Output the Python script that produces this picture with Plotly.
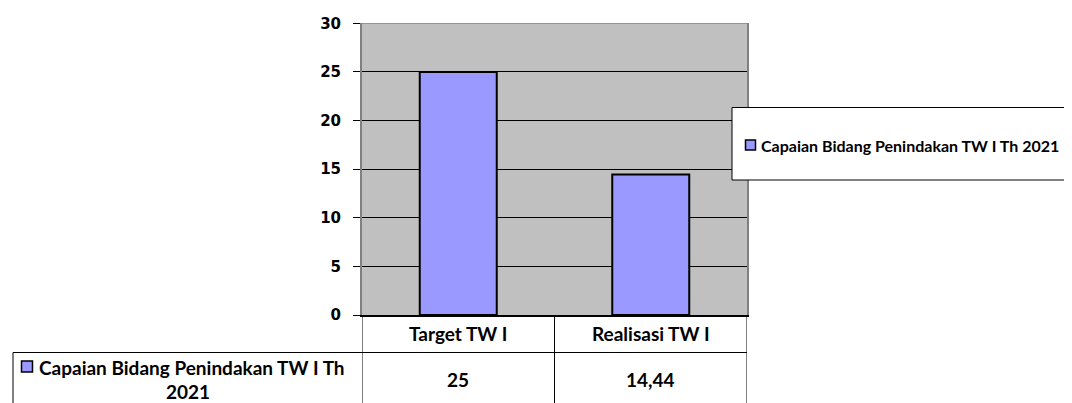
import plotly.graph_objects as go

# ---- data ----
categories = ["Target TW I", "Realisasi TW I"]
values = [25, 14.44]
value_labels = ["25", "14,44"]
series_name = "Capaian Bidang Penindakan TW I Th 2021"
y_ticks = [0, 5, 10, 15, 20, 25, 30]

W, H = 1072, 403
OX, OY = 8, 8  # page body offset


def px(x):
    return (x - OX) / W


def py(y):
    return 1 - (y - OY) / H


BAR = "#9999FF"
TXT = dict(family="Lato, Carlito, Calibri, sans-serif", color="black")

fig = go.Figure()
fig.add_trace(go.Bar(
    x=categories, y=values, width=0.4,
    marker=dict(color=BAR, line=dict(color="black", width=2)),
    showlegend=False, hoverinfo="skip",
))

plot_left, plot_right, plot_top, plot_bottom = 362, 747, 23.3, 315

fig.update_layout(
    width=W, height=H,
    margin=dict(l=0, r=0, t=0, b=0, pad=0, autoexpand=False),
    paper_bgcolor="white",
    plot_bgcolor="#C0C0C0",
    showlegend=False,
    xaxis=dict(
        domain=[px(plot_left), px(plot_right)],
        showticklabels=False, ticks="",
        showline=True, linecolor="black", linewidth=1.5,
        showgrid=False, zeroline=False, automargin=False,
        range=[-0.5, 1.5], fixedrange=True,
    ),
    yaxis=dict(
        domain=[py(plot_bottom), py(plot_top)],
        range=[0, 30], tickvals=y_ticks,
        ticks="outside", ticklen=7, tickcolor="black", tickwidth=1,
        ticklabelstandoff=9,
        tickfont=dict(family="DejaVu Sans", size=15, color="black", weight="bold"),
        showline=True, linecolor="#808080", linewidth=2, mirror=True,
        showgrid=True, gridcolor="black", gridwidth=1,
        zeroline=False, fixedrange=True, automargin=False,
    ),
)

shapes = []
# top border (gray)
shapes.append(dict(type="line", xref="x", yref="y", x0=-0.5, x1=1.5, y0=30, y1=30,
                   line=dict(color="#808080", width=1.5)))

# data table lines
t_top, t_mid, t_bot = 315, 352.5, 420
for b in [-0.5, 0.5, 1.5]:
    shapes.append(dict(type="line", xref="x", yref="paper", x0=b, x1=b,
                       y0=py(t_top), y1=py(t_bot), line=dict(color="black", width=1)))
shapes.append(dict(type="line", xref="paper", yref="paper", x0=px(13), x1=px(plot_right),
                   y0=py(t_mid), y1=py(t_mid), line=dict(color="black", width=1)))
shapes.append(dict(type="line", xref="paper", yref="paper", x0=px(13), x1=px(13),
                   y0=py(t_mid), y1=py(t_bot), line=dict(color="black", width=1)))
# legend key in table
shapes.append(dict(type="rect", xref="paper", yref="paper", x0=px(21.5), x1=px(32.5),
                   y0=py(372), y1=py(361), fillcolor=BAR, line=dict(color="black", width=1.5)))

# legend box
shapes.append(dict(type="rect", xref="paper", yref="paper", x0=px(732), x1=px(1090),
                   y0=py(180), y1=py(107.5), fillcolor="white", line=dict(color="black", width=1)))
shapes.append(dict(type="rect", xref="paper", yref="paper", x0=px(745.5), x1=px(755.5),
                   y0=py(150), y1=py(140), fillcolor=BAR, line=dict(color="black", width=1.5)))

annotations = []
# category header row
for c in categories:
    annotations.append(dict(x=c, xref="x", y=py(333.5), yref="paper", text=c, showarrow=False,
                            xanchor="center", yanchor="middle",
                            font=dict(size=19, weight="bold", **TXT)))
# value row
for c, v in zip(categories, value_labels):
    annotations.append(dict(x=c, xref="x", y=py(379.5), yref="paper", text=v, showarrow=False,
                            xanchor="center", yanchor="middle",
                            font=dict(size=19, weight="bold", **TXT)))
# series name in table (wrapped)
line1, line2 = series_name.rsplit(" ", 1)
annotations.append(dict(x=px(37), y=py(367.5), xref="paper", yref="paper", text=line1, showarrow=False,
                        xanchor="left", yanchor="middle", font=dict(size=19, weight="bold", **TXT)))
annotations.append(dict(x=px(187.5), y=py(391), xref="paper", yref="paper", text=line2, showarrow=False,
                        xanchor="center", yanchor="middle", font=dict(size=19, weight="bold", **TXT)))
# legend text
annotations.append(dict(x=px(759), y=py(145), xref="paper", yref="paper", text=series_name,
                        showarrow=False, xanchor="left", yanchor="middle",
                        font=dict(size=16, weight="bold", **TXT)))

fig.update_layout(shapes=shapes, annotations=annotations)
fig.write_html("out.html")
